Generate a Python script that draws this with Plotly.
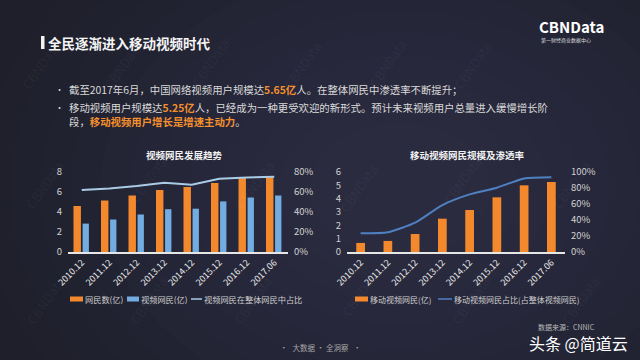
import plotly.graph_objects as go

# ---------------- data ----------------
categories = ["2010.12", "2011.12", "2012.12", "2013.12", "2014.12", "2015.12", "2016.12", "2017.06"]
netizens = [4.6, 5.15, 5.65, 6.2, 6.5, 6.9, 7.4, 7.55]          # 网民数(亿)
video_users = [2.84, 3.25, 3.75, 4.28, 4.33, 5.06, 5.45, 5.65]  # 视频网民(亿)
video_share = [0.621, 0.634, 0.659, 0.693, 0.672, 0.732, 0.745, 0.752]  # 视频网民在整体网民中占比
mobile_video = [0.68, 0.83, 1.35, 2.5, 3.15, 4.1, 5.0, 5.25]     # 移动视频网民(亿)
mobile_share = [0.233, 0.246, 0.367, 0.587, 0.72, 0.804, 0.92, 0.935]  # 移动视频网民占比

left_ticks = [0, 2, 4, 6, 8]
right_ticks = [0, 1, 2, 3, 4, 5, 6]

W, H = 640, 360
FONT = "Noto Sans CJK SC"

fig = go.Figure()

ORANGE = "#f3892c"
BLUE = "#72ace0"
LINE_L = "#a9cbe6"
LINE_R = "#4f80c2"

# left chart
fig.add_trace(go.Bar(x=categories, y=netizens, name="网民数(亿)", marker=dict(color=ORANGE, line=dict(width=0)),
                     offset=-0.3, width=0.27, xaxis="x", yaxis="y"))
fig.add_trace(go.Bar(x=categories, y=video_users, name="视频网民(亿)", marker=dict(color=BLUE, line=dict(width=0)),
                     offset=0.03, width=0.23, xaxis="x", yaxis="y"))
fig.add_trace(go.Scatter(x=categories, y=video_share, name="视频网民在整体网民中占比", mode="lines",
                         line=dict(color=LINE_L, width=2), xaxis="x", yaxis="y2"))

# right chart
fig.add_trace(go.Bar(x=categories, y=mobile_video, name="移动视频网民(亿)", marker=dict(color=ORANGE, line=dict(width=0)),
                     offset=-0.16, width=0.32, xaxis="x2", yaxis="y3"))
fig.add_trace(go.Scatter(x=categories, y=mobile_share, name="移动视频网民占比(占整体视频网民)", mode="lines",
                         line=dict(color=LINE_R, width=2, shape="spline", smoothing=0.6), xaxis="x2", yaxis="y4"))

ydom = [1 - 252 / H, 1 - 172 / H]
tickfont = dict(family=FONT, size=9.5, color="#d2d2d2")
xtickfont = dict(family=FONT, size=9, color="#e8e8e8")

common_x = dict(type="category", showline=True, linecolor="#e6e6e6", linewidth=1.5, showgrid=False,
                zeroline=False, ticks="", tickangle=-45, tickfont=xtickfont, automargin=False, fixedrange=True)
common_y = dict(showgrid=False, zeroline=False, showline=False, ticks="", tickfont=tickfont,
                ticklabelstandoff=5, automargin=False, fixedrange=True)

shapes = []
# background glow (radial-ish)
for i in range(12):
    r = 420 - i * 30
    cx, cy = 400, 190
    shapes.append(dict(type="circle", xref="paper", yref="paper", layer="below",
                       x0=(cx - r) / W, x1=(cx + r) / W, y0=1 - (cy + r * 0.75) / H, y1=1 - (cy - r * 0.75) / H,
                       fillcolor="rgba(80,86,125,0.035)", line=dict(width=0)))
# title marker bar
shapes.append(dict(type="rect", xref="paper", yref="paper", x0=41 / W, x1=44.5 / W, y0=1 - 49 / H, y1=1 - 36 / H,
                   fillcolor="#f2f2f2", line=dict(width=0)))


def rect_legend(x0, x1, y, color):
    shapes.append(dict(type="rect", xref="paper", yref="paper", x0=x0 / W, x1=x1 / W,
                       y0=1 - (y + 2.5) / H, y1=1 - (y - 2.5) / H, fillcolor=color, line=dict(width=0)))


def line_legend(x0, x1, y, color):
    shapes.append(dict(type="line", xref="paper", yref="paper", x0=x0 / W, x1=x1 / W,
                       y0=1 - y / H, y1=1 - y / H, line=dict(color=color, width=1.5)))


rect_legend(70, 83, 299, ORANGE)
rect_legend(127, 139, 299, BLUE)
line_legend(191, 202, 299, LINE_L)
rect_legend(355, 368, 299, ORANGE)
line_legend(438, 452, 299, LINE_R)

ann = []


def text(x, y, s, size=10, color="#dddddd", anchor="left", angle=0, bold=False):
    if bold:
        s = "<b>" + s + "</b>"
    ann.append(dict(x=x / W, y=1 - y / H, xref="paper", yref="paper", text=s, showarrow=False,
                    xanchor=anchor, yanchor="middle", textangle=angle, borderpad=0,
                    font=dict(family=FONT, size=size, color=color)))


# watermarks
wm = [(40, 65), (122, 65), (210, 62), (302, 65), (387, 63), (472, 65),
      (45, 185), (148, 178), (255, 185), (358, 188), (462, 180), (572, 185),
      (45, 300), (148, 300), (252, 300), (360, 292), (470, 300), (580, 300)]
for (x, y) in wm:
    text(x, y, "CBNData", size=13, color="rgba(255,255,255,0.05)", anchor="center", angle=-55)

text(47, 43, "全民逐渐进入移动视频时代", size=13.5, color="#f4f4f4", bold=True)
text(571, 27, "CBNData", size=15, color="#ffffff", anchor="center", bold=True)
text(566, 39.5, "第一财经商业数据中心", size=5, color="#dddddd", anchor="center")

OR_TXT = "#f5902e"
BS = 10.4
text(59, 89, "•", size=9, color="#cfcfcf", anchor="center")
text(59, 107, "•", size=9, color="#cfcfcf", anchor="center")
text(68, 89, "截至2017年6月，中国网络视频用户规模达<b><span style='color:%s'>5.65亿</span></b>人。在整体网民中渗透率不断提升；" % OR_TXT,
     size=BS, color="#dadada")
text(68, 107, "移动视频用户规模达<b><span style='color:%s'>5.25亿</span></b>人，已经成为一种更受欢迎的新形式。预计未来视频用户总量进入缓慢增长阶" % OR_TXT,
     size=BS, color="#dadada")
text(68, 121, "段，<b><span style='color:%s'>移动视频用户增长是增速主动力</span></b>。" % OR_TXT,
     size=BS, color="#dadada")

text(184, 155, "视频网民发展趋势", size=9.5, color="#f2f2f2", anchor="center", bold=True)
text(467, 155, "移动视频网民规模及渗透率", size=9.5, color="#f2f2f2", anchor="center", bold=True)

LG = "#cfcfcf"
text(84, 299, "网民数(亿)", size=8.2, color=LG)
text(140, 299, "视频网民(亿)", size=8.2, color=LG)
text(203, 299, "视频网民在整体网民中占比", size=8.2, color=LG)
text(369, 299, "移动视频网民(亿)", size=8, color=LG)
text(453, 299, "移动视频网民占比(占整体视频网民)", size=8, color=LG)

text(320, 347, "•   大数据 · 全洞察   •", size=7.5, color="#a8a8a8", anchor="center")
text(566, 327, "数据来源：CNNIC", size=7, color="#bbbbbb", anchor="center")
text(578, 343, "头条 @简道云", size=16, color="#ffffff", anchor="center")

fig.update_layout(
    width=W, height=H, margin=dict(l=0, r=0, t=0, b=0, pad=0, autoexpand=False),
    paper_bgcolor="#1e1f2a", plot_bgcolor="rgba(0,0,0,0)",
    showlegend=False, barmode="overlay", hovermode=False,
    font=dict(family=FONT),
    xaxis=dict(domain=[68 / W, 288 / W], anchor="y", **common_x),
    yaxis=dict(domain=ydom, range=[0, 8], tickvals=left_ticks, anchor="x", **common_y),
    yaxis2=dict(overlaying="y", side="right", anchor="x", range=[0, 0.8], tickvals=[0, 0.2, 0.4, 0.6, 0.8],
                tickformat=".0%", **common_y),
    xaxis2=dict(domain=[347 / W, 565 / W], anchor="y3", **common_x),
    yaxis3=dict(domain=ydom, range=[0, 6], tickvals=right_ticks, anchor="x2", **common_y),
    yaxis4=dict(overlaying="y3", side="right", anchor="x2", range=[0, 1], tickvals=[0, 0.2, 0.4, 0.6, 0.8, 1.0],
                tickformat=".0%", **common_y),
    shapes=shapes, annotations=ann,
)

fig.write_html("out.html", config={"displayModeBar": False},
               post_script="document.body.style.margin='0';document.body.style.overflow='hidden';"
                           "document.body.style.background='#1e1f2a';")
